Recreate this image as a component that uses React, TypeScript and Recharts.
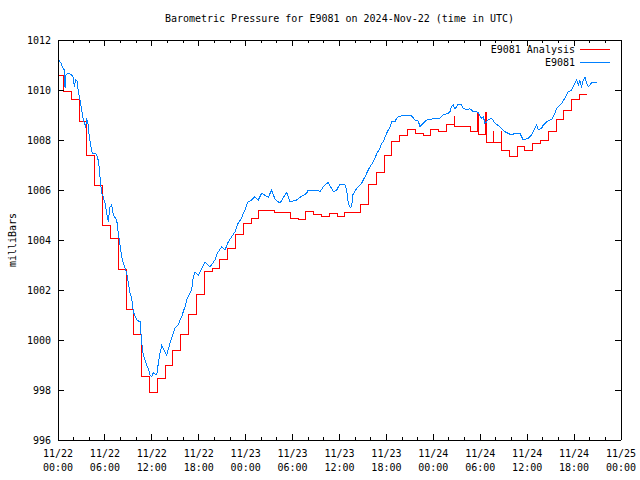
import React from 'react';
import { LineChart, Line, XAxis, YAxis, Legend } from 'recharts';

const FONT = '"DejaVu Sans Mono", "Liberation Mono", monospace';

const seriesNames = ['E9081 Analysis', 'E9081'];

// hourly analysis (millibars), each value holds from HH-0:18 to HH+0:42
const analysisHourly = [
  1010.6, 1009.96, 1009.63, 1008.73, 1007.4, 1006.2, 1004.6, 1004.07, 1002.84, 1001.24,
  1000.23, 998.55, 997.92, 998.47, 998.97, 999.59, 1000.23, 1001.03, 1001.83, 1002.73,
  1002.87, 1003.23, 1003.67, 1004.24, 1004.67, 1004.87, 1005.17, 1005.19, 1005.12, 1005.12,
  1004.87, 1004.83, 1005.13, 1005.04, 1004.96, 1005.07, 1004.95, 1005.12, 1005.12, 1005.44,
  1006.23, 1006.71, 1007.4, 1007.96, 1008.2, 1008.43, 1008.27, 1008.2, 1008.43, 1008.33,
  1008.63, 1008.53, 1008.55, 1008.36, 1008.24, 1007.9, 1007.9, 1007.57, 1007.35, 1007.76,
  1007.6, 1007.87, 1008.0, 1008.36, 1008.83, 1009.2, 1009.63, 1009.83,
];

// short-lived analysis updates that show as spikes
const analysisSpikes = [
  { hour: 51, peak: 1008.93 },
  { hour: 54, peak: 1009.1 },
  { hour: 55, peak: 1009.1 },
  { hour: 56, peak: 1008.33 },
  { hour: 57, peak: 1008.33 },
];

// station observations: hours since 11/22 00:00 and pressure
const obsHours = [
  0.04, 0.38, 0.55, 0.81, 0.9, 1.02, 1.32, 1.75, 1.96, 2.08, 2.26, 2.43, 2.6, 2.81, 3.03, 3.24,
  3.54, 3.67, 3.87, 4.0, 4.22, 4.39, 4.82, 5.08, 5.24, 5.37, 5.59, 5.72, 6.01, 6.43, 6.65, 6.87,
  7.07, 7.51, 7.63, 7.8, 8.15, 8.35, 8.57, 8.79, 8.99, 9.21, 9.42, 9.63, 10.06, 10.49, 10.7,
  10.91, 11.13, 11.34, 11.55, 11.76, 11.98, 12.19, 12.62, 12.83, 13.04, 13.26, 13.68, 13.9,
  14.32, 14.54, 14.74, 14.96, 15.38, 15.6, 15.82, 16.02, 16.24, 16.46, 16.66, 17.1, 17.3, 17.52,
  17.94, 18.58, 18.8, 19.44, 20.08, 20.29, 20.5, 20.93, 21.36, 21.78, 22.21, 22.63, 23.06, 23.49,
  23.7, 23.91, 24.13, 24.34, 24.77, 25.19, 25.61, 26.05, 26.89, 27.33, 27.75, 28.39, 29.03, 29.25,
  29.67, 30.52, 30.95, 31.8, 32.01, 33.29, 33.5, 33.93, 34.36, 34.57, 34.78, 35.0, 35.2, 35.64,
  36.06, 36.7, 36.92, 37.12, 37.34, 37.56, 37.69, 38.2, 38.84, 39.04, 39.26, 39.68, 39.9, 40.32,
  40.75, 41.18, 41.39, 41.6, 42.03, 42.24, 42.46, 42.67, 43.09, 43.31, 43.52, 44.37, 45.23, 45.65,
  46.08, 46.29, 46.71, 47.15, 47.57, 48.85, 49.27, 49.91, 50.13, 50.35, 50.55, 50.77, 50.98, 51.19,
  51.62, 51.83, 52.26, 52.69, 53.11, 53.54, 53.75, 53.96, 54.18, 54.39, 54.6, 54.82, 54.99, 55.46,
  55.88, 56.52, 57.16, 57.54, 58.02, 58.44, 59.08, 59.3, 59.5, 60.14, 60.57, 61.0, 61.21, 61.42,
  61.85, 62.06, 62.49, 63.13, 63.34, 63.55, 63.77, 64.41, 64.83, 65.26, 65.69, 65.89, 66.11, 66.33,
  66.53, 66.75, 66.96, 67.17, 67.39, 67.61, 67.82, 68.25, 68.89,
];
const obsPressure = [
  1011.23, 1011.07, 1010.93, 1010.8, 1010.1, 1010.6, 1010.67, 1010.6, 1010.5, 1010.13, 1010.4, 1010.35, 1009.93, 1009.6, 1009.2, 1008.8,
  1008.5, 1008.87, 1008.6, 1008.13, 1007.73, 1007.47, 1007.47, 1007.3, 1006.96, 1006.53, 1005.87, 1005.8, 1005.47, 1004.73, 1005.33, 1005.4,
  1005.0, 1004.8, 1004.47, 1004.07, 1003.33, 1003.07, 1002.87, 1002.67, 1002.27, 1001.87, 1001.67, 1001.13, 1000.8, 1000.73, 999.93,
  999.4, 999.2, 999.0, 998.87, 998.6, 998.53, 998.69, 998.6, 999.07, 999.47, 999.77, 999.53, 999.4,
  999.87, 1000.07, 1000.27, 1000.47, 1000.6, 1000.8, 1000.93, 1001.13, 1001.33, 1001.6, 1001.73, 1002.0, 1002.53, 1002.73,
  1002.6, 1002.97, 1003.13, 1002.93, 1003.2, 1003.4, 1003.53, 1003.73, 1003.6, 1003.93, 1004.13, 1004.33, 1004.69, 1004.87,
  1005.07, 1005.2, 1005.4, 1005.53, 1005.6, 1005.73, 1005.6, 1005.87, 1005.71, 1006.0, 1005.63, 1005.47, 1005.8, 1005.89,
  1005.53, 1005.6, 1005.71, 1005.87, 1006.0, 1006.0, 1005.93, 1006.13, 1006.27, 1006.29, 1006.16, 1006.07, 1005.93, 1006.0,
  1006.24, 1006.2, 1006.0, 1005.47, 1005.31, 1005.33, 1005.8, 1006.07, 1006.27, 1006.4, 1006.53, 1006.8, 1006.93, 1007.13,
  1007.44, 1007.67, 1007.87, 1007.93, 1008.27, 1008.4, 1008.53, 1008.73, 1008.73, 1008.87, 1008.93, 1009.0, 1008.96, 1008.8,
  1008.75, 1008.53, 1008.67, 1008.8, 1008.83, 1008.87, 1009.0, 1009.07, 1009.13, 1009.36, 1009.4, 1009.25, 1009.33, 1009.44,
  1009.4, 1009.27, 1009.2, 1009.25, 1009.13, 1009.13, 1009.09, 1008.96, 1008.87, 1008.93, 1008.67, 1008.73, 1008.8, 1008.87,
  1008.67, 1008.53, 1008.33, 1008.27, 1008.2, 1008.27, 1008.27, 1008.13, 1008.0, 1008.07, 1008.2, 1008.47, 1008.6, 1008.4,
  1008.47, 1008.6, 1008.73, 1008.83, 1008.93, 1009.07, 1009.27, 1009.47, 1009.67, 1009.93, 1010.0, 1010.13, 1010.27, 1010.4,
  1010.2, 1010.37, 1010.13, 1010.4, 1010.51, 1010.27, 1010.13, 1010.29, 1010.29,
];

const tickHours = [0, 2, 4, 6, 8, 10, 12, 14, 16, 18, 20, 22, 24, 26, 28, 30, 32, 34, 36,
  38, 40, 42, 44, 46, 48, 50, 52, 54, 56, 58, 60, 62, 64, 66, 68, 70, 72];
const labelHours = [0, 6, 12, 18, 24, 30, 36, 42, 48, 54, 60, 66, 72];
const tickDates = ['11/22', '11/22', '11/22', '11/22', '11/23', '11/23', '11/23', '11/23',
  '11/24', '11/24', '11/24', '11/24', '11/25'];
const tickTimes = ['00:00', '06:00', '12:00', '18:00', '00:00', '06:00', '12:00', '18:00',
  '00:00', '06:00', '12:00', '18:00', '00:00'];
const pressureTicks = [996, 998, 1000, 1002, 1004, 1006, 1008, 1010, 1012];

const analysisData: { t: number; p: number }[] = [];
analysisHourly.forEach((p, i) => {
  const t = i === 0 ? 0 : i - 0.3;
  const spike = analysisSpikes.find((s) => s.hour === i);
  if (spike) analysisData.push({ t, p: spike.peak });
  analysisData.push({ t: spike ? t + 0.04 : t, p });
});
analysisData.push({ t: analysisHourly.length - 0.3, p: analysisHourly[analysisHourly.length - 1] });

const obsData = obsHours.map((t, i) => ({ t, p: obsPressure[i] }));

const BottomTick = (props: any) => {
  const { x, y, payload } = props;
  const idx = labelHours.indexOf(payload.value);
  const len = idx >= 0 ? 6 : 3;
  return (
    <g>
      <line x1={x} x2={x} y1={y} y2={y - len} stroke="#000" shapeRendering="crispEdges" />
      {idx >= 0 && (
        <text x={x} y={y} textAnchor="middle" fontFamily={FONT} fontSize={10} fill="#000">
          <tspan x={x} dy={17}>{tickDates[idx]}</tspan>
          <tspan x={x} dy={14}>{tickTimes[idx]}</tspan>
        </text>
      )}
    </g>
  );
};

const TopTick = (props: any) => {
  const { x, y, payload } = props;
  const len = labelHours.includes(payload.value) ? 6 : 3;
  return <line x1={x} x2={x} y1={y} y2={y + len} stroke="#000" shapeRendering="crispEdges" />;
};

const LeftTick = (props: any) => {
  const { x, y, payload } = props;
  return (
    <g>
      <line x1={x} x2={x + 6} y1={y} y2={y} stroke="#000" shapeRendering="crispEdges" />
      <text x={x - 7} y={y} dy="0.35em" textAnchor="end" fontFamily={FONT} fontSize={10} fill="#000">
        {payload.value}
      </text>
    </g>
  );
};

const RightTick = (props: any) => {
  const { x, y } = props;
  return <line x1={x} x2={x - 6} y1={y} y2={y} stroke="#000" shapeRendering="crispEdges" />;
};

const YTitle = (props: any) => {
  const vb = props.viewBox || { x: 8, y: 40, width: 50, height: 400 };
  const cx = vb.x + 4;
  const cy = vb.y + vb.height / 2;
  return (
    <text x={cx} y={cy} dy="0.35em" textAnchor="middle" transform={`rotate(-90 ${cx} ${cy})`}
      fontFamily={FONT} fontSize={10} fill="#000">
      milliBars
    </text>
  );
};

const LegendBox = ({ payload }: any) => {
  const entries = [...(payload || [])].sort(
    (a: any, b: any) => seriesNames.indexOf(a.value) - seriesNames.indexOf(b.value),
  );
  return (
    <div>
      {entries.map((e: any) => (
        <div key={e.value} style={{ display: 'flex', alignItems: 'center', justifyContent: 'flex-end', height: 13 }}>
          <span style={{ fontFamily: FONT, fontSize: 10, lineHeight: '13px', color: '#000' }}>{e.value}</span>
          <svg width={30} height={13} style={{ marginLeft: 5, display: 'block' }}>
            <line x1={0} x2={30} y1={6.5} y2={6.5} stroke={e.color} shapeRendering="crispEdges" />
          </svg>
        </div>
      ))}
    </div>
  );
};

export default function App() {
  return (
    <div style={{ position: 'absolute', left: 0, top: 0, width: 640, height: 480, background: '#fff' }}>
      <div style={{ position: 'absolute', left: 58, width: 563, top: 13, textAlign: 'center', fontFamily: FONT, fontSize: 10, lineHeight: '12px', color: '#000', whiteSpace: 'pre' }}>
        Barometric Pressure for E9081 on 2024-Nov-22 (time in UTC)
      </div>
      <LineChart width={640} height={480} margin={{ top: 10, right: 0, bottom: 10, left: 8 }}>
        <XAxis xAxisId="b" type="number" dataKey="t" domain={[0, 72]} ticks={tickHours} interval={0}
          orientation="bottom" height={30} tickLine={false} tickSize={0} tickMargin={0}
          tick={<BottomTick />} axisLine={{ stroke: '#000', shapeRendering: 'crispEdges' }} allowDataOverflow />
        <XAxis xAxisId="t" type="number" dataKey="t" domain={[0, 72]} ticks={tickHours} interval={0}
          orientation="top" height={30} tickLine={false} tickSize={0} tickMargin={0}
          tick={<TopTick />} axisLine={{ stroke: '#000', shapeRendering: 'crispEdges' }} allowDataOverflow />
        <YAxis yAxisId="l" type="number" domain={[996, 1012]} ticks={pressureTicks} interval={0}
          width={50} tickLine={false} tickSize={0} tickMargin={0} tick={<LeftTick />}
          axisLine={{ stroke: '#000', shapeRendering: 'crispEdges' }} label={<YTitle />} allowDataOverflow />
        <YAxis yAxisId="r" orientation="right" type="number" domain={[996, 1012]} ticks={pressureTicks} interval={0}
          width={19} tickLine={false} tickSize={0} tickMargin={0} tick={<RightTick />}
          axisLine={{ stroke: '#000', shapeRendering: 'crispEdges' }} allowDataOverflow />
        <Legend layout="vertical" align="center" verticalAlign="middle" content={<LegendBox />}
          wrapperStyle={{ top: 43, right: 30, left: 'auto', width: 'auto' }} />
        <Line xAxisId="b" yAxisId="l" data={analysisData} dataKey="p" name="E9081 Analysis" type="stepAfter"
          stroke="#ff0000" strokeWidth={1} dot={false} activeDot={false} isAnimationActive={false}
          shapeRendering="crispEdges" />
        <Line xAxisId="b" yAxisId="l" data={obsData} dataKey="p" name="E9081" type="linear"
          stroke="#0080ff" strokeWidth={1} dot={false} activeDot={false} isAnimationActive={false}
          shapeRendering="crispEdges" />
      </LineChart>
    </div>
  );
}
